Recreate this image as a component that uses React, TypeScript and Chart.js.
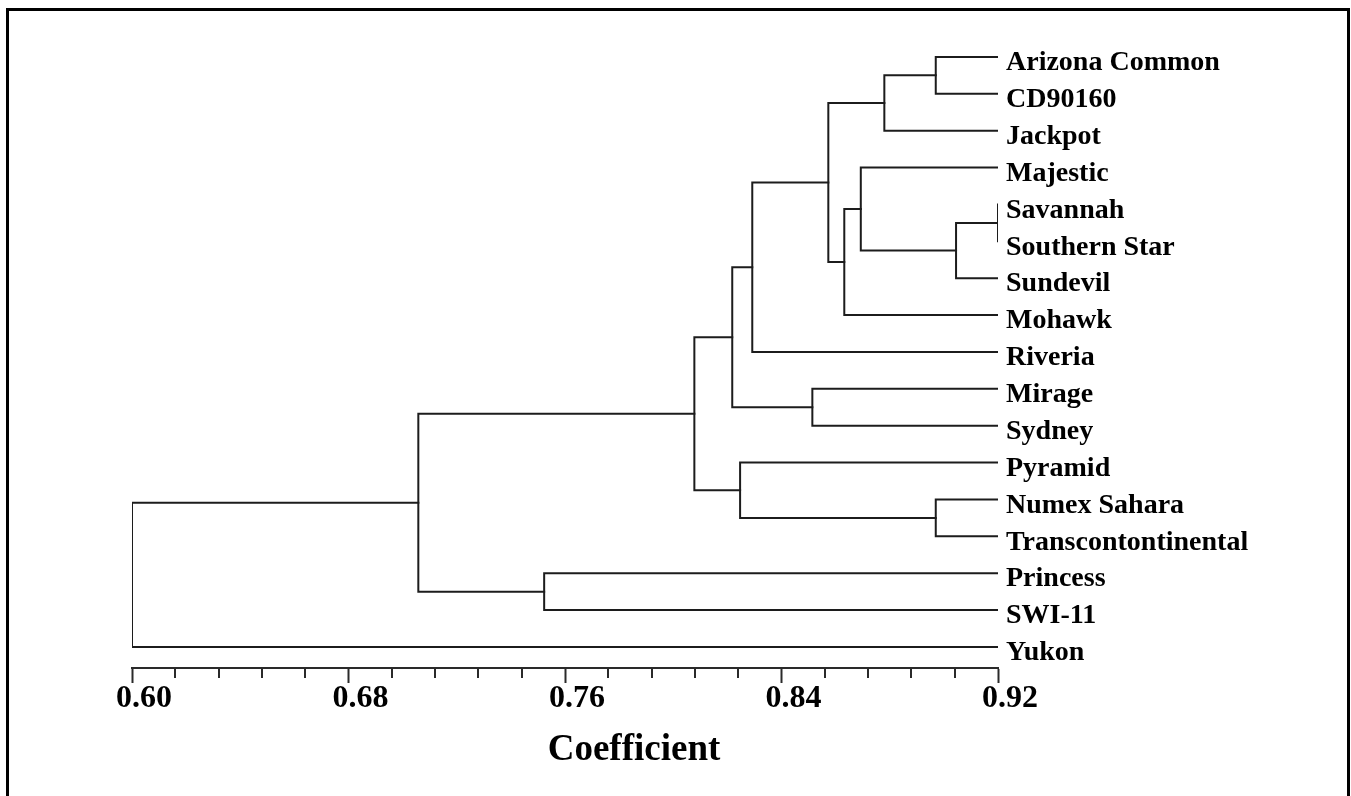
import React, { useEffect, useRef } from 'react';
import { Chart, registerables } from 'chart.js';

Chart.register(...registerables);

// ---- Data ----
const leaves = [
  'Arizona Common',
  'CD90160',
  'Jackpot',
  'Majestic',
  'Savannah',
  'Southern Star',
  'Sundevil',
  'Mohawk',
  'Riveria',
  'Mirage',
  'Sydney',
  'Pyramid',
  'Numex Sahara',
  'Transcontontinental',
  'Princess',
  'SWI-11',
  'Yukon',
];

// Leaves are drawn from the right end of the coefficient axis
const leafCoefficient = 0.92;

// Agglomeration steps: cluster Ck joins mergeLeft[k] and mergeRight[k] at mergeHeight[k]
const mergeLeft = [
  'Savannah', 'Arizona Common', 'Numex Sahara', 'C0', 'C1', 'Majestic', 'C5', 'C4',
  'Mirage', 'C7', 'Pyramid', 'C9', 'C11', 'Princess', 'C12', 'C14',
];
const mergeRight = [
  'Southern Star', 'CD90160', 'Transcontontinental', 'Sundevil', 'Jackpot', 'C3', 'Mohawk', 'C6',
  'Sydney', 'Riveria', 'C2', 'C8', 'C10', 'SWI-11', 'C13', 'Yukon',
];
const mergeHeight = [
  0.92, 0.897, 0.897, 0.9045, 0.878, 0.8693, 0.8632, 0.8573,
  0.8514, 0.8292, 0.8247, 0.8218, 0.8078, 0.7523, 0.7058, 0.60,
];

const xMajorTicks = [0.6, 0.68, 0.76, 0.84, 0.92];
const xMinorDivisions = 5;
const xTitle = 'Coefficient';

// ---- Styles ----
const SERIF = "'Liberation Serif', 'Times New Roman', serif";
const LINE = '#1c1c1c';
const AXIS = '#2a2a2a';

export default function App() {
  const ref = useRef<HTMLCanvasElement>(null);

  useEffect(() => {
    const canvas = ref.current;
    if (!canvas) return;

    const nodes: Record<string, { x: number; y: number }> = {};
    leaves.forEach((name, i) => {
      nodes[name] = { x: leafCoefficient, y: i };
    });
    const datasets = mergeHeight.map((h, k) => {
      const L = nodes[mergeLeft[k]];
      const R = nodes[mergeRight[k]];
      nodes['C' + k] = { x: h, y: (L.y + R.y) / 2 };
      return {
        data: [
          { x: L.x, y: L.y },
          { x: h, y: L.y },
          { x: h, y: R.y },
          { x: R.x, y: R.y },
        ],
        showLine: true,
        borderColor: LINE,
        backgroundColor: LINE,
        borderWidth: 2,
        pointRadius: 0,
        pointHoverRadius: 0,
        fill: false,
        tension: 0,
        borderJoinStyle: 'miter' as const,
        borderCapStyle: 'square' as const,
      };
    });

    const tickValues: number[] = [];
    for (let i = 0; i < xMajorTicks.length - 1; i++) {
      for (let j = 0; j < xMinorDivisions; j++) {
        tickValues.push(xMajorTicks[i] + ((xMajorTicks[i + 1] - xMajorTicks[i]) * j) / xMinorDivisions);
      }
    }
    tickValues.push(xMajorTicks[xMajorTicks.length - 1]);
    const isMajor = (v: number) => xMajorTicks.some((m) => Math.abs(m - v) < 1e-9);

    const minorTicksPlugin = {
      id: 'minorTicks',
      afterDraw(chart: any) {
        const xs = chart.scales.x;
        const ctx = chart.ctx;
        ctx.save();
        ctx.strokeStyle = AXIS;
        ctx.lineWidth = 2;
        ctx.beginPath();
        xs.ticks.forEach((t: any) => {
          if (isMajor(t.value)) return;
          const px = Math.round(xs.getPixelForValue(t.value));
          ctx.moveTo(px, xs.top);
          ctx.lineTo(px, xs.top + 10);
        });
        ctx.stroke();
        ctx.restore();
      },
    };

    const chart = new Chart(canvas, {
      type: 'scatter',
      data: { datasets: datasets as any },
      plugins: [minorTicksPlugin],
      options: {
        animation: false,
        responsive: false,
        maintainAspectRatio: false,
        events: [],
        layout: { padding: { left: 0, top: 30, right: 0, bottom: 0 } },
        plugins: {
          legend: { display: false },
          tooltip: { enabled: false },
          title: {
            display: true,
            text: xTitle,
            position: 'bottom',
            color: '#000',
            font: { family: SERIF, size: 37, weight: 'bold', lineHeight: 1.2 },
            padding: { top: 9.8, bottom: 23.8 },
          },
        },
        scales: {
          x: {
            type: 'linear',
            position: 'bottom',
            min: xMajorTicks[0],
            max: xMajorTicks[xMajorTicks.length - 1],
            afterBuildTicks: (s: any) => {
              s.ticks = tickValues.map((v) => ({ value: v }));
            },
            afterFit: (s: any) => {
              s.height = 50;
            },
            border: { display: true, color: AXIS, width: 2 },
            grid: {
              drawOnChartArea: false,
              drawTicks: true,
              tickLength: 15,
              tickWidth: 2,
              tickColor: (c: any) => (c.tick && isMajor(c.tick.value) ? AXIS : 'rgba(0,0,0,0)'),
            },
            ticks: {
              autoSkip: false,
              maxRotation: 0,
              minRotation: 0,
              padding: 0,
              labelOffset: 12,
              color: '#000',
              font: { family: SERIF, size: 32, weight: 'bold', lineHeight: 1 },
              callback: (v: any) => (isMajor(Number(v)) ? Number(v).toFixed(2) : ''),
            },
          },
          y: {
            type: 'linear',
            position: 'right',
            reverse: true,
            min: -0.73,
            max: 16.57,
            afterBuildTicks: (s: any) => {
              s.ticks = leaves.map((_, i) => ({ value: i }));
            },
            afterFit: (s: any) => {
              s.width = 270;
            },
            border: { display: false },
            grid: { display: false, drawTicks: false },
            ticks: {
              autoSkip: false,
              padding: 8,
              labelOffset: 6,
              color: '#000',
              font: { family: SERIF, size: 28, weight: 'bold' },
              callback: (v: any) => leaves[Number(v)] ?? '',
            },
          },
          // empty left spacer axis: keeps the plot area at the reference position
          yPad: {
            type: 'linear',
            position: 'left',
            display: true,
            afterFit: (s: any) => {
              s.width = 132;
            },
            border: { display: false },
            grid: { display: false, drawTicks: false },
            ticks: { display: false },
          },
        },
      } as any,
    });

    return () => chart.destroy();
  }, []);

  return (
    <div
      style={{
        position: 'absolute',
        left: 0,
        top: 0,
        width: 1351,
        height: 796,
        overflow: 'hidden',
        background: '#fff',
      }}
    >
      <canvas
        ref={ref}
        width={1268}
        height={796}
        style={{ position: 'absolute', left: 0, top: 0, width: 1268, height: 796 }}
      />
      <div
        style={{
          position: 'absolute',
          left: 6,
          top: 8,
          width: 1344,
          height: 900,
          border: '3px solid #000',
          boxSizing: 'border-box',
          pointerEvents: 'none',
        }}
      />
    </div>
  );
}
